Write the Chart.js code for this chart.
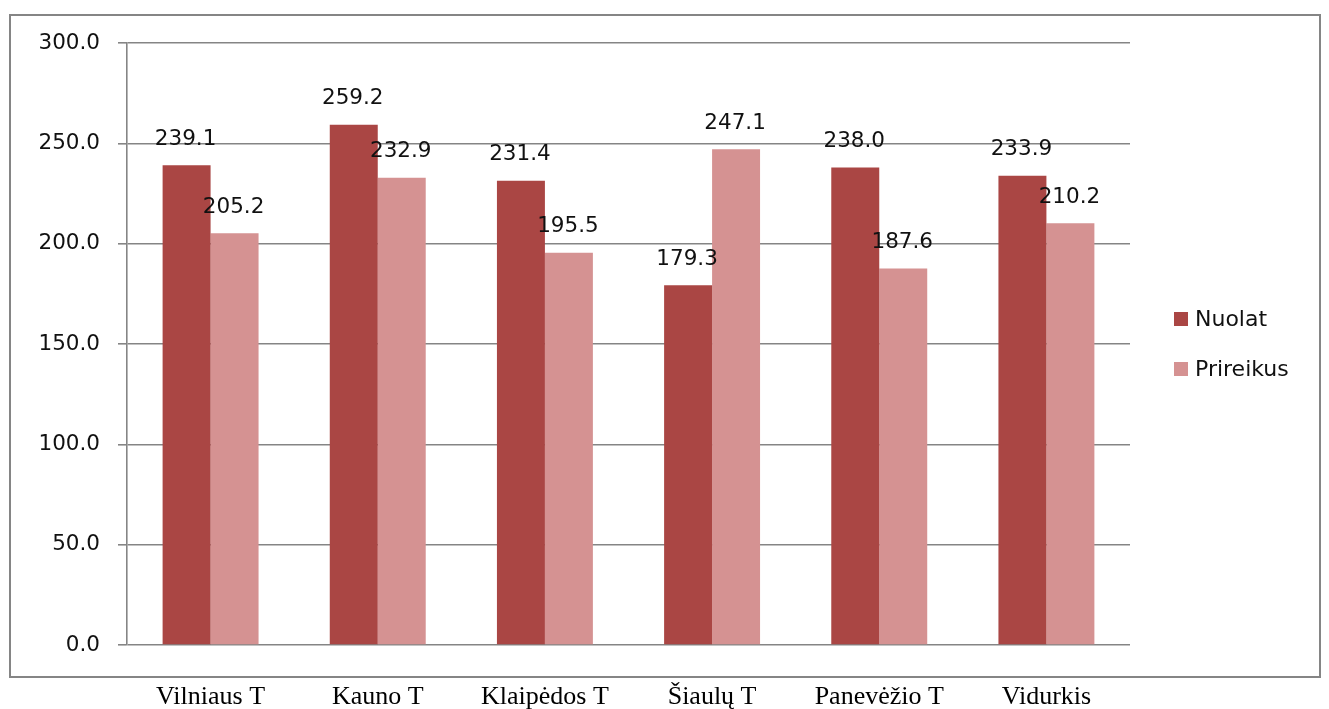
<!DOCTYPE html>
<html>
<head>
<meta charset="utf-8">
<script src="https://cdn.jsdelivr.net/npm/chart.js@4/dist/chart.umd.min.js"></script>
<style>
  html, body { margin: 0; padding: 0; background: #fff; }
  canvas { display: block; }
</style>
</head>
<body>
<canvas id="c" width="1329" height="709"></canvas>
<script>
const categories = ['Vilniaus T', 'Kauno T', 'Klaipėdos T', 'Šiaulų T', 'Panevėžio T', 'Vidurkis'];
const seriesNames = ['Nuolat', 'Prireikus'];
const nuolat = [239.1, 259.2, 231.4, 179.3, 238.0, 233.9];
const prireikus = [205.2, 232.9, 195.5, 247.1, 187.6, 210.2];
const yMin = 0, yMax = 300, yStep = 50;

const colors = ['#AA4644', '#D59292'];
const gridColor = '#858585';
const sansFont = 'DejaVu Sans';
const serifFont = 'Liberation Serif';

const frame = {
  id: 'frame',
  beforeDraw(chart) {
    const ctx = chart.ctx;
    ctx.save();
    ctx.fillStyle = '#fff';
    ctx.fillRect(0, 0, chart.width, chart.height);
    ctx.strokeStyle = gridColor;
    ctx.lineWidth = 2;
    ctx.strokeRect(10, 15, 1310, 662);
    ctx.restore();
  }
};

const valueLabels = {
  id: 'valueLabels',
  afterDatasetsDraw(chart) {
    const ctx = chart.ctx;
    ctx.save();
    ctx.font = '21.5px "' + sansFont + '"';
    ctx.fillStyle = '#111';
    ctx.textAlign = 'center';
    ctx.textBaseline = 'middle';
    chart.data.datasets.forEach((ds, di) => {
      const meta = chart.getDatasetMeta(di);
      meta.data.forEach((el, i) => {
        ctx.fillText(ds.data[i].toFixed(1), el.x - 1, el.y - 26);
      });
    });
    ctx.restore();
  }
};

const sideLegend = {
  id: 'sideLegend',
  afterDraw(chart) {
    const ctx = chart.ctx;
    const area = chart.chartArea;
    const cy = (area.top + area.bottom) / 2;
    const n = chart.data.datasets.length;
    const gap = 50;
    ctx.save();
    ctx.font = '22px "' + sansFont + '"';
    ctx.textBaseline = 'middle';
    ctx.textAlign = 'left';
    chart.data.datasets.forEach((ds, i) => {
      const y = cy + (i - (n - 1) / 2) * gap;
      ctx.fillStyle = ds.backgroundColor;
      ctx.fillRect(area.right + 44, y - 7, 14, 14);
      ctx.fillStyle = '#111';
      ctx.fillText(ds.label, area.right + 65, y + 1);
    });
    ctx.restore();
  }
};

new Chart(document.getElementById('c'), {
  type: 'bar',
  data: {
    labels: categories,
    datasets: [
      { label: seriesNames[0], data: nuolat, backgroundColor: colors[0] },
      { label: seriesNames[1], data: prireikus, backgroundColor: colors[1] }
    ]
  },
  options: {
    responsive: false,
    animation: false,
    layout: { padding: { top: 43, right: 199, left: 0, bottom: 0 } },
    datasets: { bar: { categoryPercentage: 0.574, barPercentage: 1.0 } },
    plugins: { legend: { display: false }, tooltip: { enabled: false } },
    scales: {
      x: {
        grid: { display: false, drawTicks: false },
        border: { display: false },
        ticks: { font: { family: serifFont, size: 26 }, color: '#000', padding: 37, maxRotation: 0 },
        afterFit(s) { s.height = 64; }
      },
      y: {
        min: yMin, max: yMax,
        ticks: {
          stepSize: yStep,
          callback: v => Number(v).toFixed(1),
          font: { family: sansFont, size: 21.5 },
          color: '#111',
          padding: 18
        },
        grid: { color: gridColor, lineWidth: 1.6, tickLength: 9, drawTicks: true },
        border: { display: true, color: gridColor, width: 1.6 },
        afterFit(s) { s.width = 127; }
      }
    }
  },
  plugins: [frame, valueLabels, sideLegend]
});
</script>
</body>
</html>
